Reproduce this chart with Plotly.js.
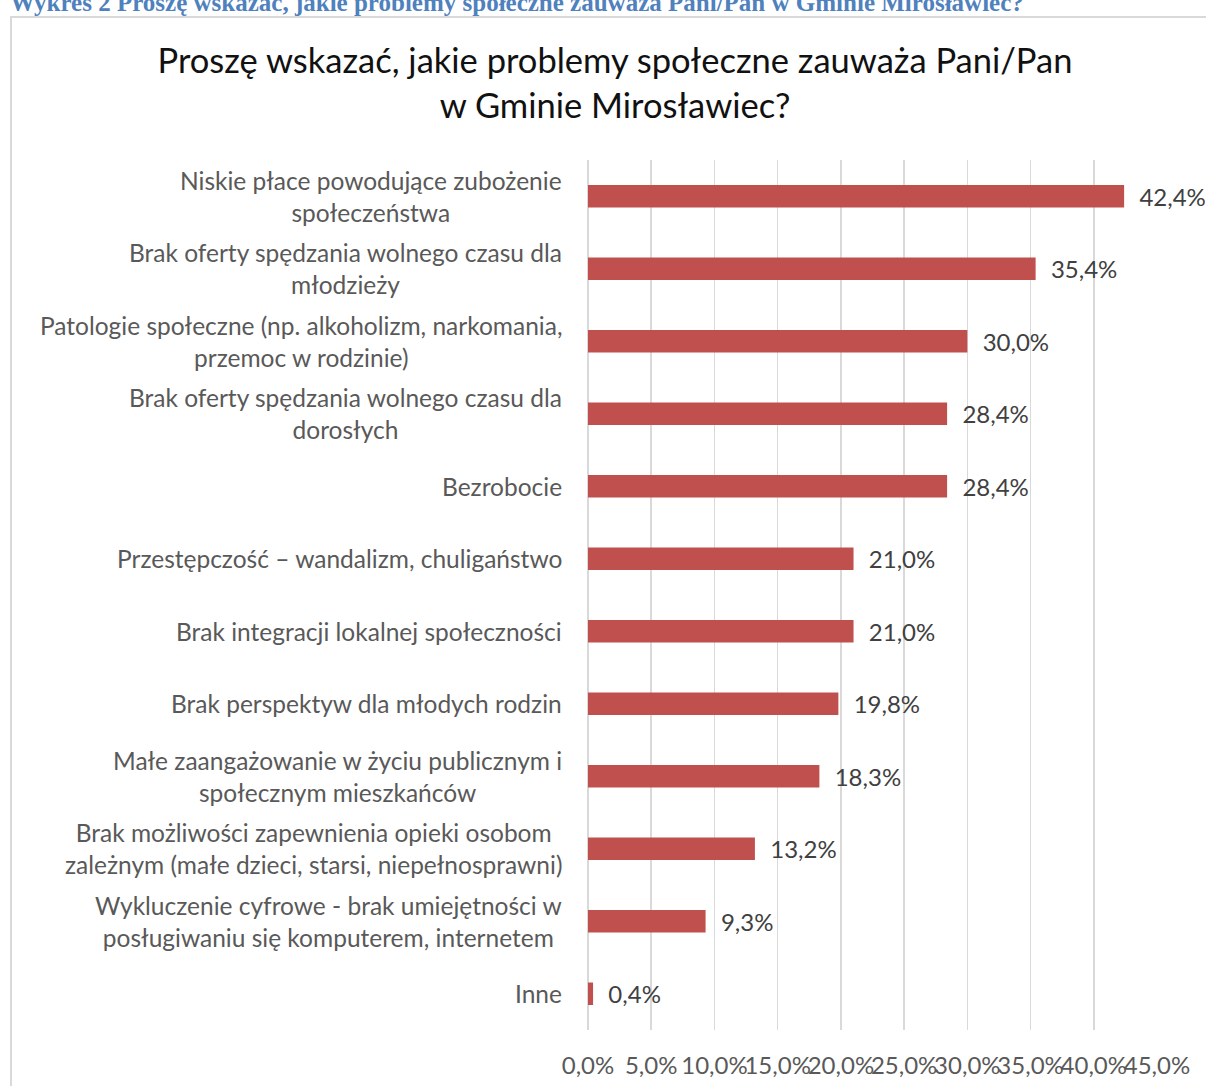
<!DOCTYPE html>
<html>
<head>
<meta charset="utf-8">
<script src="https://cdn.plot.ly/plotly-3.0.1.min.js"></script>
<style>
  html, body { margin: 0; padding: 0; background: #ffffff; }
  #chart { width: 1206px; height: 1086px; }
</style>
</head>
<body>
<div id="chart"></div>
<script>
// ---- data ----
const categories = [
  "Niskie płace powodujące zubożenie<br>społeczeństwa",
  "Brak oferty spędzania wolnego czasu dla<br>młodzieży",
  "Patologie społeczne (np. alkoholizm, narkomania,<br>przemoc w rodzinie)",
  "Brak oferty spędzania wolnego czasu dla<br>dorosłych",
  "Bezrobocie",
  "Przestępczość – wandalizm, chuligaństwo",
  "Brak integracji lokalnej społeczności",
  "Brak perspektyw dla młodych rodzin",
  "Małe zaangażowanie w życiu publicznym i<br>społecznym mieszkańców",
  "Brak możliwości zapewnienia opieki osobom<br>zależnym (małe dzieci, starsi, niepełnosprawni)",
  "Wykluczenie cyfrowe - brak umiejętności w<br>posługiwaniu się komputerem, internetem",
  "Inne"
];
const values = [42.4, 35.4, 30.0, 28.4, 28.4, 21.0, 21.0, 19.8, 18.3, 13.2, 9.3, 0.4];
const tickValues = [0, 5, 10, 15, 20, 25, 30, 35, 40, 45];
const tickLabels = ["0,0%", "5,0%", "10,0%", "15,0%", "20,0%", "25,0%", "30,0%", "35,0%", "40,0%", "45,0%"];
const chartTitle = "Proszę wskazać, jakie problemy społeczne zauważa Pani/Pan<br>w Gminie Mirosławiec?";
const caption = "Wykres 2 Proszę wskazać, jakie problemy społeczne zauważa Pani/Pan w Gminie Mirosławiec?";

const FONT = "Lato, 'Open Sans', sans-serif";

const trace = {
  type: "bar",
  orientation: "h",
  x: values,
  y: categories,
  marker: { color: "#c0504d" },
  width: 0.31,
  texttemplate: "\u00a0\u00a0%{x:.1f}%",
  textposition: "outside",
  textfont: { family: FONT, size: 24, color: "#404040" },
  constraintext: "none",
  cliponaxis: false,
  hoverinfo: "none"
};

const labelAnnotations = categories.map(c => ({
  xref: "paper", yref: "y",
  x: 0, y: c,
  xanchor: "right", yanchor: "middle",
  xshift: -24,
  align: "center",
  text: c,
  showarrow: false,
  font: { family: FONT, size: 24.5, color: "#595959" }
}));

const layout = {
  width: 1206,
  height: 1086,
  margin: { l: 588, r: 49, t: 160, b: 56, pad: 0 },
  paper_bgcolor: "#ffffff",
  plot_bgcolor: "#ffffff",
  separators: ", ",
  showlegend: false,
  title: {
    text: chartTitle,
    x: 615 / 1206, xref: "container", xanchor: "center",
    y: 1 - 73 / 1086, yref: "container", yanchor: "middle",
    font: { family: FONT, size: 34.5, color: "#111111" }
  },
  xaxis: {
    range: [0, 45],
    tickvals: tickValues,
    ticktext: tickLabels,
    tickangle: 0,
    showgrid: true,
    gridcolor: "#d9d9d9",
    gridwidth: 1.5,
    zeroline: true,
    zerolinecolor: "#d9d9d9",
    zerolinewidth: 1.5,
    showline: false,
    ticks: "outside",
    ticklen: 14,
    tickcolor: "rgba(0,0,0,0)",
    tickfont: { family: FONT, size: 24, color: "#595959" },
    fixedrange: true
  },
  yaxis: {
    autorange: "reversed",
    showticklabels: false,
    showgrid: false,
    zeroline: false,
    showline: false,
    fixedrange: true
  },
  annotations: [
    {
      xref: "paper", yref: "paper",
      x: (8 - 588) / 569, y: 1, xanchor: "left", yanchor: "middle",
      yshift: 157.5,
      text: caption,
      showarrow: false,
      font: { family: "'Liberation Serif', 'DejaVu Serif', serif", size: 25, color: "#4f81bd", weight: "bold" }
    }
  ].concat(labelAnnotations),
  shapes: [
    {
      type: "rect", xref: "paper", yref: "paper",
      x0: (11 - 588) / 569, x1: (1230 - 588) / 569,
      y0: -0.2, y1: 1 + (160 - 17) / 870,
      line: { color: "#d9d9d9", width: 2 },
      fillcolor: "rgba(0,0,0,0)",
      layer: "below"
    }
  ]
};

Plotly.newPlot("chart", [trace], layout, { displayModeBar: false, staticPlot: true });
</script>
</body>
</html>
